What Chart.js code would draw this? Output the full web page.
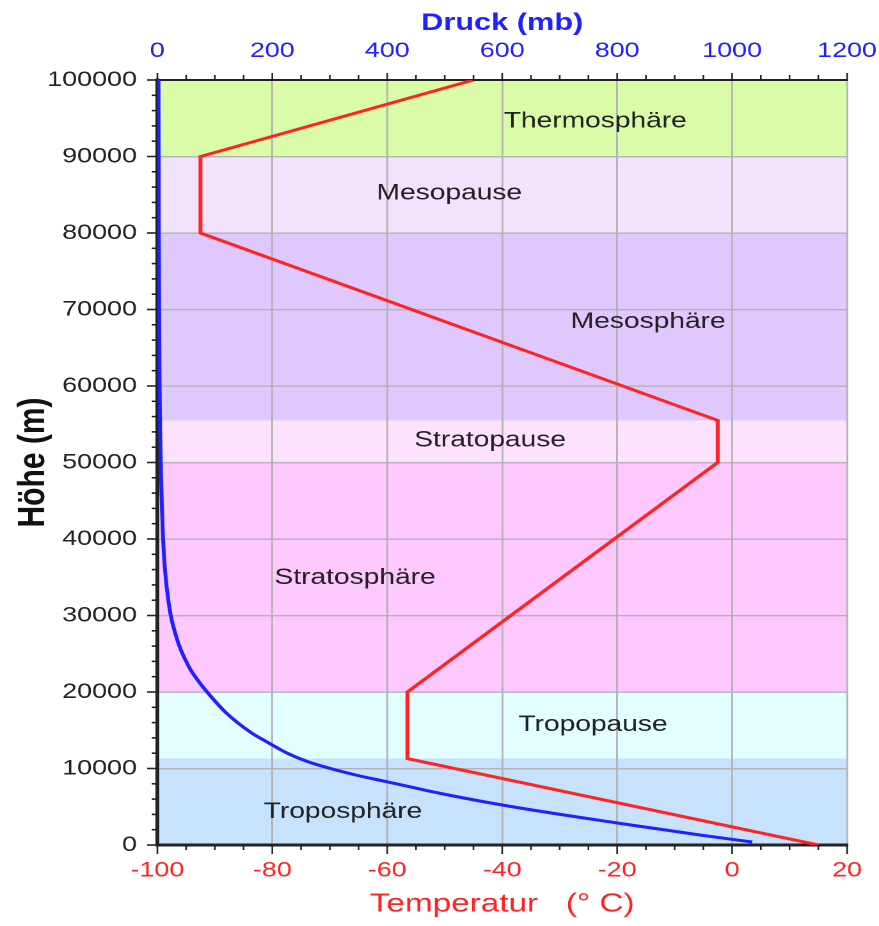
<!DOCTYPE html>
<html>
<head>
<meta charset="utf-8">
<script src="https://cdn.jsdelivr.net/npm/chart.js@4.4.0/dist/chart.umd.min.js"></script>
<style>
html,body{margin:0;padding:0;background:#fff;overflow:hidden;}
#wrap{width:687px;height:926px;transform:scaleX(1.2795);transform-origin:0 0;}
</style>
</head>
<body>
<div id="wrap"><canvas id="c" width="687" height="926"></canvas></div>
<script>
// Temperature profile (°C vs altitude m)
const tempAlt = [0, 11300, 20000, 50000, 55500, 80000, 90000, 100000];
const tempVal = [15, -56.5, -56.5, -2.5, -2.5, -92.5, -92.5, -45];
// Pressure profile (mb vs altitude m)
const presAlt = [390, 1310, 2880, 5100, 6750, 8280, 9150, 10890, 12000, 13500, 14640, 17250, 19870, 21570, 23270, 27710, 32030, 40000, 50000, 60000, 80000, 100000];
const presVal = [1035, 944, 800, 610, 492, 399, 345, 262, 226, 190, 164, 120, 88, 70, 55, 31, 19, 10, 6, 4, 2.5, 2];
// Atmospheric layers
const layerNames = ['Troposphäre', 'Tropopause', 'Stratosphäre', 'Stratopause', 'Mesosphäre', 'Mesopause', 'Thermosphäre'];
const layerFrom = [0, 11300, 20000, 50000, 55500, 80000, 90000];
const layerTo = [11300, 20000, 50000, 55500, 80000, 90000, 100000];
const layerColors = ['#c7e2fd', '#e2fefe', '#fcc8fd', '#fde2fd', '#dfc9fc', '#f1e3fc', '#dafca9'];
const labelTemp = [-67.7, -24.2, -65.6, -42.1, -14.6, -49.2, -23.8];
const labelAlt = [4300, 15700, 34900, 52900, 68400, 85200, 94600];
// Axis ranges
const tempRange = [-100, 20];
const presRange = [0, 1200];
const altRange = [0, 100000];

const FONT = "'Liberation Sans', Arial, sans-serif";
const RED = '#ff2424';
const BLUE = '#2121ff';

const bandsPlugin = {
  id: 'bands',
  beforeDraw(chart) {
    const {ctx, chartArea, scales} = chart;
    ctx.save();
    for (let i = 0; i < layerFrom.length; i++) {
      const y1 = scales.y.getPixelForValue(layerTo[i]);
      const y0 = scales.y.getPixelForValue(layerFrom[i]);
      ctx.fillStyle = layerColors[i];
      ctx.fillRect(chartArea.left, y1, chartArea.right - chartArea.left, y0 - y1);
    }
    ctx.restore();
  },
  afterDatasetsDraw(chart) {
    const {ctx, scales} = chart;
    ctx.save();
    ctx.fillStyle = '#222';
    ctx.font = '22px ' + FONT;
    ctx.textAlign = 'center';
    ctx.textBaseline = 'middle';
    for (let i = 0; i < layerNames.length; i++) {
      ctx.fillText(layerNames[i], scales.x.getPixelForValue(labelTemp[i]), scales.y.getPixelForValue(labelAlt[i]));
    }
    ctx.restore();
  },
  afterDraw(chart) {
    const {ctx, chartArea, scales} = chart;
    ctx.save();
    ctx.strokeStyle = '#222';
    ctx.lineWidth = 1.6;
    for (let v = altRange[0]; v <= altRange[1]; v += 2000) {
      const py = scales.y.getPixelForValue(v);
      const len = v % 10000 === 0 ? 8 : 4.5;
      ctx.beginPath();
      ctx.moveTo(chartArea.left - len, py);
      ctx.lineTo(chartArea.left, py);
      ctx.stroke();
    }
    ctx.lineWidth = 1.3;
    for (let t = tempRange[0]; t <= tempRange[1]; t += 5) {
      const px = scales.x.getPixelForValue(t);
      const len = t % 20 === 0 ? 9 : 5;
      ctx.beginPath();
      ctx.moveTo(px, chartArea.bottom);
      ctx.lineTo(px, chartArea.bottom + len);
      ctx.stroke();
    }
    for (let p = presRange[0]; p <= presRange[1]; p += 50) {
      const px = scales.x2.getPixelForValue(p);
      const len = p % 200 === 0 ? 7 : 5;
      ctx.beginPath();
      ctx.moveTo(px, chartArea.top - len);
      ctx.lineTo(px, chartArea.top + 1);
      ctx.stroke();
    }
    ctx.restore();
  }
};

const redData = tempVal.map((t, i) => ({x: t, y: tempAlt[i]}));
const blueData = presVal.map((p, i) => ({x: p, y: presAlt[i]}));
const plain = v => String(v);
const fixX = h => s => { s.height = h; s.paddingLeft = 0; s.paddingRight = 0; };

new Chart(document.getElementById('c'), {
  type: 'scatter',
  data: {
    datasets: [
      {label: 'Temperatur', data: redData, xAxisID: 'x', yAxisID: 'y', showLine: true,
       borderColor: RED, borderWidth: 3, pointRadius: 0, tension: 0},
      {label: 'Druck', data: blueData, xAxisID: 'x2', yAxisID: 'y', showLine: true,
       borderColor: BLUE, borderWidth: 3, pointRadius: 0, cubicInterpolationMode: 'monotone'}
    ]
  },
  options: {
    responsive: false,
    animation: false,
    devicePixelRatio: 2,
    layout: {padding: {left: 0, right: 25, top: 0, bottom: 0}},
    plugins: {legend: {display: false}, tooltip: {enabled: false}},
    scales: {
      x: {
        type: 'linear', position: 'bottom', min: tempRange[0], max: tempRange[1],
        afterFit: fixX(81),
        ticks: {stepSize: 20, color: RED, font: {family: FONT, size: 21}, padding: 13, maxRotation: 0, callback: plain},
        grid: {color: '#b3b3b3', lineWidth: 1.4, drawTicks: false},
        border: {color: '#222', width: 3},
        title: {display: true, text: 'Temperatur   (° C)', color: RED, font: {family: FONT, size: 26}, padding: {top: 0, bottom: 6}}
      },
      x2: {
        type: 'linear', position: 'top', min: presRange[0], max: presRange[1],
        afterFit: fixX(80),
        ticks: {stepSize: 200, color: BLUE, font: {family: FONT, size: 21}, padding: 16, maxRotation: 0, callback: plain},
        grid: {drawOnChartArea: false, drawTicks: false},
        border: {color: '#222', width: 2},
        title: {display: true, text: 'Druck (mb)', color: BLUE, font: {family: FONT, size: 24, weight: 'bold'}, padding: {top: 9, bottom: 0}}
      },
      y: {
        type: 'linear', position: 'left', min: altRange[0], max: altRange[1],
        afterFit(s) { s.width = 123; s.paddingTop = 0; s.paddingBottom = 0; },
        ticks: {stepSize: 10000, color: '#222', font: {family: FONT, size: 21}, padding: 16, callback: plain},
        grid: {color: '#b3b3b3', lineWidth: 1.4, drawTicks: false},
        border: {color: '#222', width: 3},
        title: {display: true, text: 'Höhe (m)', color: '#111', font: {family: FONT, size: 30, weight: 'bold'}, padding: {top: 8, bottom: 0}}
      }
    }
  },
  plugins: [bandsPlugin]
});
</script>
</body>
</html>
